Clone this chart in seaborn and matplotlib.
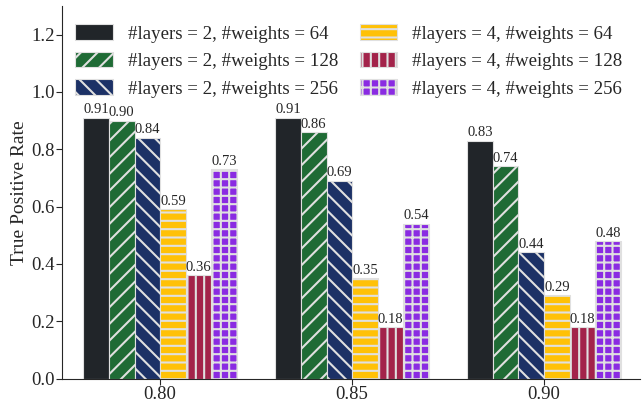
import pandas as pd
import matplotlib
matplotlib.use("Agg")
import matplotlib.pyplot as plt
import seaborn as sns

# --- data ---
thresholds = ['0.80', '0.85', '0.90']
configs = [
    '#layers = 2, #weights = 64',
    '#layers = 2, #weights = 128',
    '#layers = 2, #weights = 256',
    '#layers = 4, #weights = 64',
    '#layers = 4, #weights = 128',
    '#layers = 4, #weights = 256',
]
tpr_l2_w64 = [0.91, 0.91, 0.83]
tpr_l2_w128 = [0.90, 0.86, 0.74]
tpr_l2_w256 = [0.84, 0.69, 0.44]
tpr_l4_w64 = [0.59, 0.35, 0.29]
tpr_l4_w128 = [0.36, 0.18, 0.18]
tpr_l4_w256 = [0.73, 0.54, 0.48]

colors = ['#212529', '#1f6b35', '#1c3166', '#ffc107', '#a3234a', '#8a2be2']
hatches = ['', '//', '\\\\', '--', '||', '++']

series = [tpr_l2_w64, tpr_l2_w128, tpr_l2_w256, tpr_l4_w64, tpr_l4_w128, tpr_l4_w256]
rows = []
for cfg, vals in zip(configs, series):
    for t, v in zip(thresholds, vals):
        rows.append({'threshold': t, 'config': cfg, 'tpr': v})
df = pd.DataFrame(rows)

sns.set_style('ticks')
plt.rcParams['font.family'] = ['Liberation Serif', 'DejaVu Serif']
plt.rcParams['hatch.color'] = 'white'
plt.rcParams['hatch.linewidth'] = 1.5

fig = plt.figure(figsize=(6.42, 4.01), dpi=100)
ax = fig.add_axes([0.097, 0.056, 0.9, 0.929])

sns.barplot(data=df, x='threshold', y='tpr', hue='config', hue_order=configs,
            palette=colors, width=0.8, edgecolor='#e0e0e0', linewidth=0.8,
            saturation=1, ax=ax)

for container, h in zip(ax.containers, hatches):
    for bar in container:
        bar.set_hatch(h)
    ax.bar_label(container, fmt='%.2f', fontsize=10.5, padding=1)

ax.set_ylim(0, 1.3)
ax.set_xlim(-0.51, 2.5)
ax.set_xlabel('')
ax.set_ylabel('True Positive Rate', fontsize=14, labelpad=2)
ax.tick_params(axis='both', labelsize=13.5, length=4, pad=1.5)
sns.despine(ax=ax)

handles, labels = ax.get_legend_handles_labels()
for hd, h in zip(handles, hatches):
    hd.set_hatch(h)
ax.legend(handles, labels, ncol=2, frameon=False, fontsize=13.6,
          loc='upper left', bbox_to_anchor=(0.0, 0.986),
          handlelength=2.0, handleheight=0.85, handletextpad=0.8,
          columnspacing=1.1, labelspacing=0.5, borderaxespad=0.3)

fig.savefig('out.png', dpi=100)
